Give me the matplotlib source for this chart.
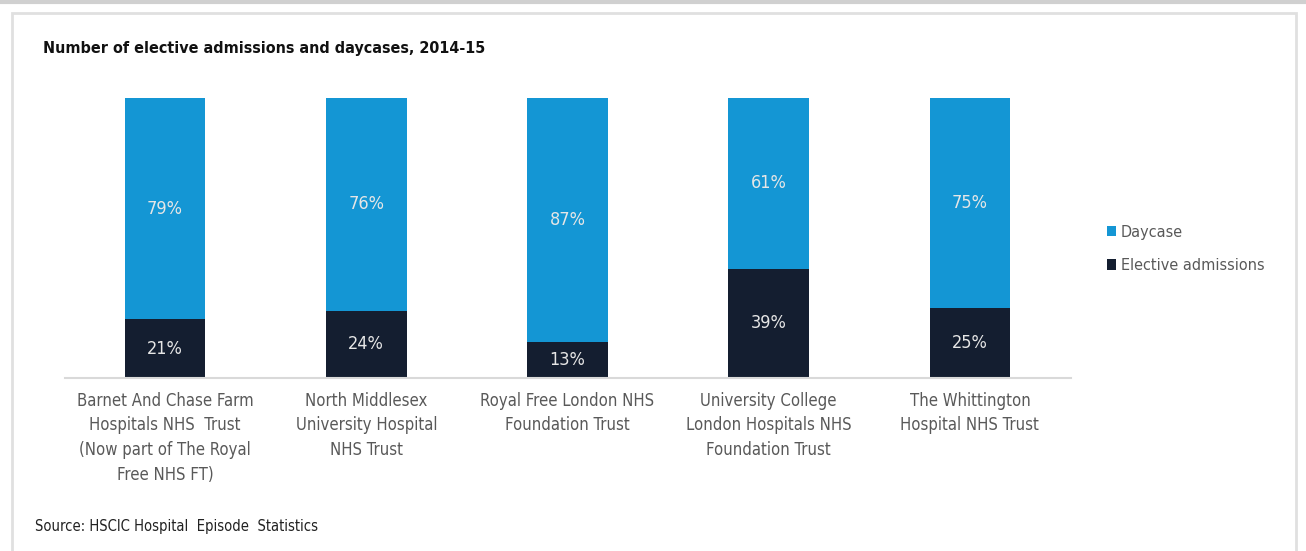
import matplotlib
matplotlib.use("Agg")
import matplotlib.pyplot as plt
from matplotlib.patches import Rectangle
from matplotlib.lines import Line2D
import numpy as np

# data
trusts = [
    "Barnet And Chase Farm\nHospitals NHS  Trust\n(Now part of The Royal\nFree NHS FT)",
    "North Middlesex\nUniversity Hospital\nNHS Trust",
    "Royal Free London NHS\nFoundation Trust",
    "University College\nLondon Hospitals NHS\nFoundation Trust",
    "The Whittington\nHospital NHS Trust",
]
elective = [21, 24, 13, 39, 25]
daycase = [79, 76, 87, 61, 75]

blue = "#1496d4"
navy = "#141e30"
grey_txt = "#595959"

plt.rcParams['font.family'] = ['Liberation Sans Narrow', 'DejaVu Sans']
plt.rcParams['font.stretch'] = 'condensed'

fig = plt.figure(figsize=(13.06, 5.51), dpi=100)

# outer frame
fig.add_artist(Line2D([0, 1], [1 - 1.5/551, 1 - 1.5/551], color="#d0d0d0", lw=3))
fig.add_artist(Rectangle((12/1306, -0.05), (1296-12)/1306, 1.05 - 13/551,
                         fill=False, edgecolor="#e0e0e0", lw=2))

ax = fig.add_axes([64.5/1306, 1 - 378/551, 1006/1306, 280/551])
x = np.arange(len(trusts))
ax.bar(x, elective, width=0.4, color=navy, label="Elective admissions")
ax.bar(x, daycase, width=0.4, bottom=elective, color=blue, label="Daycase")

for i in range(len(x)):
    ax.text(x[i], elective[i] / 2, f"{elective[i]}%", ha="center", va="center",
            color="#e6e6e6", fontsize=13)
    ax.text(x[i], elective[i] + daycase[i] / 2, f"{daycase[i]}%", ha="center",
            va="center", color="#e6e6e6", fontsize=13)

ax.set_xlim(-0.5, 4.5)
ax.set_ylim(0, 100)
ax.set_yticks([])
for s in ["top", "right", "left"]:
    ax.spines[s].set_visible(False)
ax.spines["bottom"].set_color("#d9d9d9")
ax.spines["bottom"].set_linewidth(1.5)
ax.set_xticks(x)
ax.set_xticklabels(trusts, fontsize=12, color=grey_txt, linespacing=1.47)
ax.tick_params(axis="x", length=0, pad=10)

handles, labels = ax.get_legend_handles_labels()
fig.legend(handles[::-1], labels[::-1], loc="center left",
           bbox_to_anchor=(1092/1306, 1 - 249/551), frameon=False,
           fontsize=11.6, labelcolor=grey_txt, handlelength=0.6, handleheight=0.6,
           handletextpad=0.3, labelspacing=1.15)

fig.text(43/1306, 1 - 48/551, "Number of elective admissions and daycases, 2014-15",
         fontsize=11.5, fontweight="bold", color="#111111", va="center")
fig.text(35/1306, 1 - 526/551, "Source: HSCIC Hospital  Episode  Statistics",
         fontsize=10.6, color="#222222", va="center")

fig.savefig("out.png", dpi=100)
